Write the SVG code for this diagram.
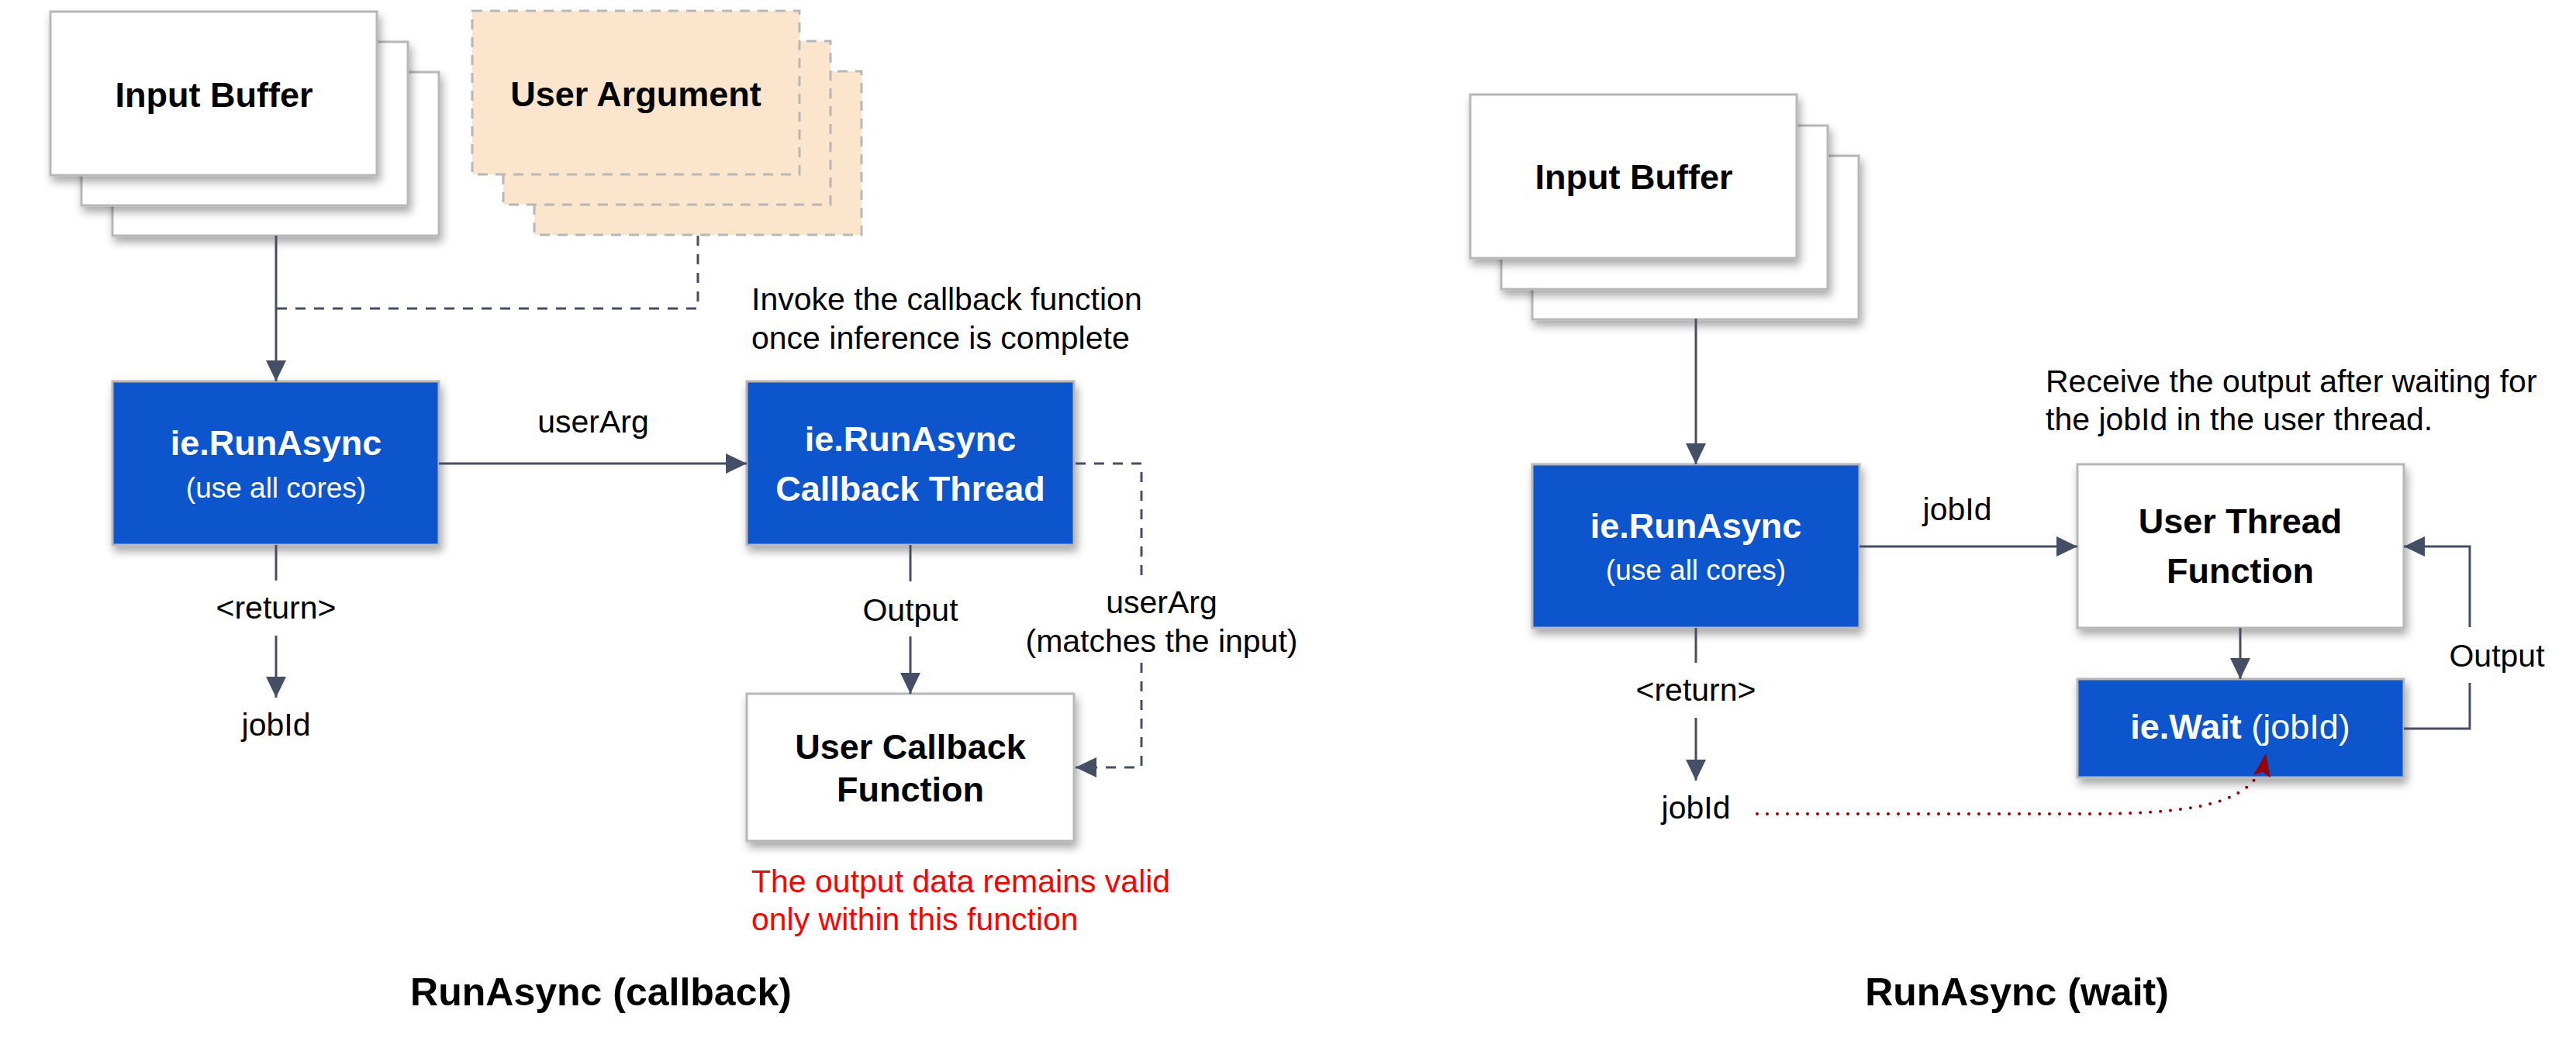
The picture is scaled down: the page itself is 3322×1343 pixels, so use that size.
<svg xmlns="http://www.w3.org/2000/svg" width="3322" height="1343" viewBox="0 0 3322 1343">
<style>
text{font-family:"Liberation Sans",Arial,sans-serif;}
.box{fill:#ffffff;stroke:#b7b7b7;stroke-width:3;filter:url(#sh);}
.blue{fill:#1155cc;stroke:#b7b7b7;stroke-width:3;filter:url(#sh);}
.arg{fill:#fce5cd;stroke:#b7b7b7;stroke-width:3;stroke-dasharray:13 10;}
.t{font-size:45px;font-weight:bold;text-anchor:middle;fill:#000;}
.tw{font-size:45px;font-weight:bold;text-anchor:middle;fill:#fff;}
.sw{font-size:37px;text-anchor:middle;fill:#fff;}
.lbl{font-size:41px;text-anchor:middle;fill:#000;}
.note{font-size:41px;fill:#000;}
.red{font-size:41px;fill:#ff0000;}
.title{font-size:50px;font-weight:bold;text-anchor:middle;fill:#000;}
.ln{fill:none;stroke:#444f66;stroke-width:3;}
.arr{marker-end:url(#ah);}
.dash{stroke-dasharray:13 11;}
.dot{fill:none;stroke:#990000;stroke-width:4;stroke-linecap:round;stroke-dasharray:0 13;marker-end:url(#rh);}
</style>
<defs>
<filter id="sh" x="-10%" y="-10%" width="125%" height="135%">
<feDropShadow dx="3" dy="7" stdDeviation="6" flood-color="#000" flood-opacity="0.35"/>
</filter>
<marker id="ah" markerUnits="userSpaceOnUse" markerWidth="28" markerHeight="28" viewBox="0 0 28 28" refX="27" refY="14" orient="auto">
<path d="M0,1 L27,14 L0,27 Z" fill="#444f66"/>
</marker>
<marker id="rh" markerUnits="userSpaceOnUse" markerWidth="32" markerHeight="24" viewBox="0 0 32 24" refX="30" refY="12" orient="auto">
<path d="M0,1 L30,12 L0,23 L6,12 Z" fill="#990000"/>
</marker>
</defs>
<rect width="3322" height="1343" fill="#ffffff"/>

<g id="input-buffer-1">
<rect class="box" x="145" y="93" width="421" height="211"/>
<rect class="box" x="105" y="54" width="421" height="211"/>
<rect class="box" x="65" y="15" width="421" height="211"/>
<text class="t" x="276" y="138">Input Buffer</text>
</g>

<g id="user-argument">
<rect class="arg" x="689" y="92" width="422" height="211"/>
<rect class="arg" x="649" y="53" width="422" height="211"/>
<rect class="arg" x="609" y="14" width="422" height="211"/>
<text class="t" x="820" y="137">User Argument</text>
</g>

<g id="runasync-1">
<rect class="blue" x="145" y="492" width="421" height="211"/>
<text class="tw" x="356" y="587">ie.RunAsync</text>
<text class="sw" x="356" y="642">(use all cores)</text>
</g>

<g id="callback-thread">
<rect class="blue" x="963" y="492" width="422" height="211"/>
<text class="tw" x="1174" y="582">ie.RunAsync</text>
<text class="tw" x="1174" y="646">Callback Thread</text>
</g>

<g id="user-callback">
<rect class="box" x="963" y="895" width="422" height="190"/>
<text class="t" x="1174" y="979">User Callback</text>
<text class="t" x="1174" y="1034">Function</text>
</g>

<g id="note-callback">
<text class="note" x="969" y="400">Invoke the callback function</text>
<text class="note" x="969" y="450">once inference is complete</text>
</g>

<g id="note-valid">
<text class="red" x="969" y="1151">The output data remains valid</text>
<text class="red" x="969" y="1200">only within this function</text>
</g>

<g id="input-buffer-2">
<rect class="box" x="1976" y="201" width="421" height="211"/>
<rect class="box" x="1936" y="162" width="421" height="211"/>
<rect class="box" x="1896" y="122" width="421" height="211"/>
<text class="t" x="2107" y="244">Input Buffer</text>
</g>

<g id="runasync-2">
<rect class="blue" x="1976" y="599" width="422" height="211"/>
<text class="tw" x="2187" y="694">ie.RunAsync</text>
<text class="sw" x="2187" y="748">(use all cores)</text>
</g>

<g id="user-thread">
<rect class="box" x="2679" y="599" width="421" height="211"/>
<text class="t" x="2889" y="688">User Thread</text>
<text class="t" x="2889" y="752">Function</text>
</g>

<g id="ie-wait">
<rect class="blue" x="2679" y="876" width="421" height="127"/>
<text class="tw" x="2889" y="953">ie.Wait<tspan font-weight="normal"> (jobId)</tspan></text>
</g>

<g id="note-wait">
<text class="note" x="2638" y="506">Receive the output after waiting for</text>
<text class="note" x="2638" y="555">the jobId in the user thread.</text>
</g>

<g id="titles">
<text class="title" x="775" y="1297">RunAsync (callback)</text>
<text class="title" x="2601" y="1297">RunAsync (wait)</text>
</g>

<g id="connectors">
<path class="ln arr" d="M356,304 V492"/>
<path class="ln dash" d="M900,304 V398 H356"/>
<path class="ln arr" d="M566,598 H963"/>
<path class="ln" d="M356,703 V749"/>
<path class="ln arr" d="M356,820 V900"/>
<path class="ln" d="M1174,703 V750"/>
<path class="ln arr" d="M1174,821 V895"/>
<path class="ln dash" d="M1387,598 H1472 V743"/>
<path class="ln dash arr" d="M1472,855 V990 H1387"/>
<path class="ln arr" d="M2187,411 V599"/>
<path class="ln arr" d="M2398,705 H2679"/>
<path class="ln" d="M2187,810 V855"/>
<path class="ln arr" d="M2187,926 V1007"/>
<path class="ln arr" d="M2889,810 V876"/>
<path class="ln" d="M3100,940 H3185 V881"/>
<path class="ln arr" d="M3185,809 V705 H3100"/>
<path class="dot" d="M2266,1050 L2700,1050 C2850,1049 2912,1032 2922,972"/>
<text class="lbl" x="765" y="558">userArg</text>
<text class="lbl" x="356" y="798">&lt;return&gt;</text>
<text class="lbl" x="356" y="949">jobId</text>
<text class="lbl" x="1174" y="801">Output</text>
<text class="lbl" x="1498" y="791">userArg</text>
<text class="lbl" x="1498" y="841">(matches the input)</text>
<text class="lbl" x="2524" y="671">jobId</text>
<text class="lbl" x="2187" y="904">&lt;return&gt;</text>
<text class="lbl" x="2187" y="1056">jobId</text>
<text class="lbl" x="3220" y="860">Output</text>
</g>
</svg>
